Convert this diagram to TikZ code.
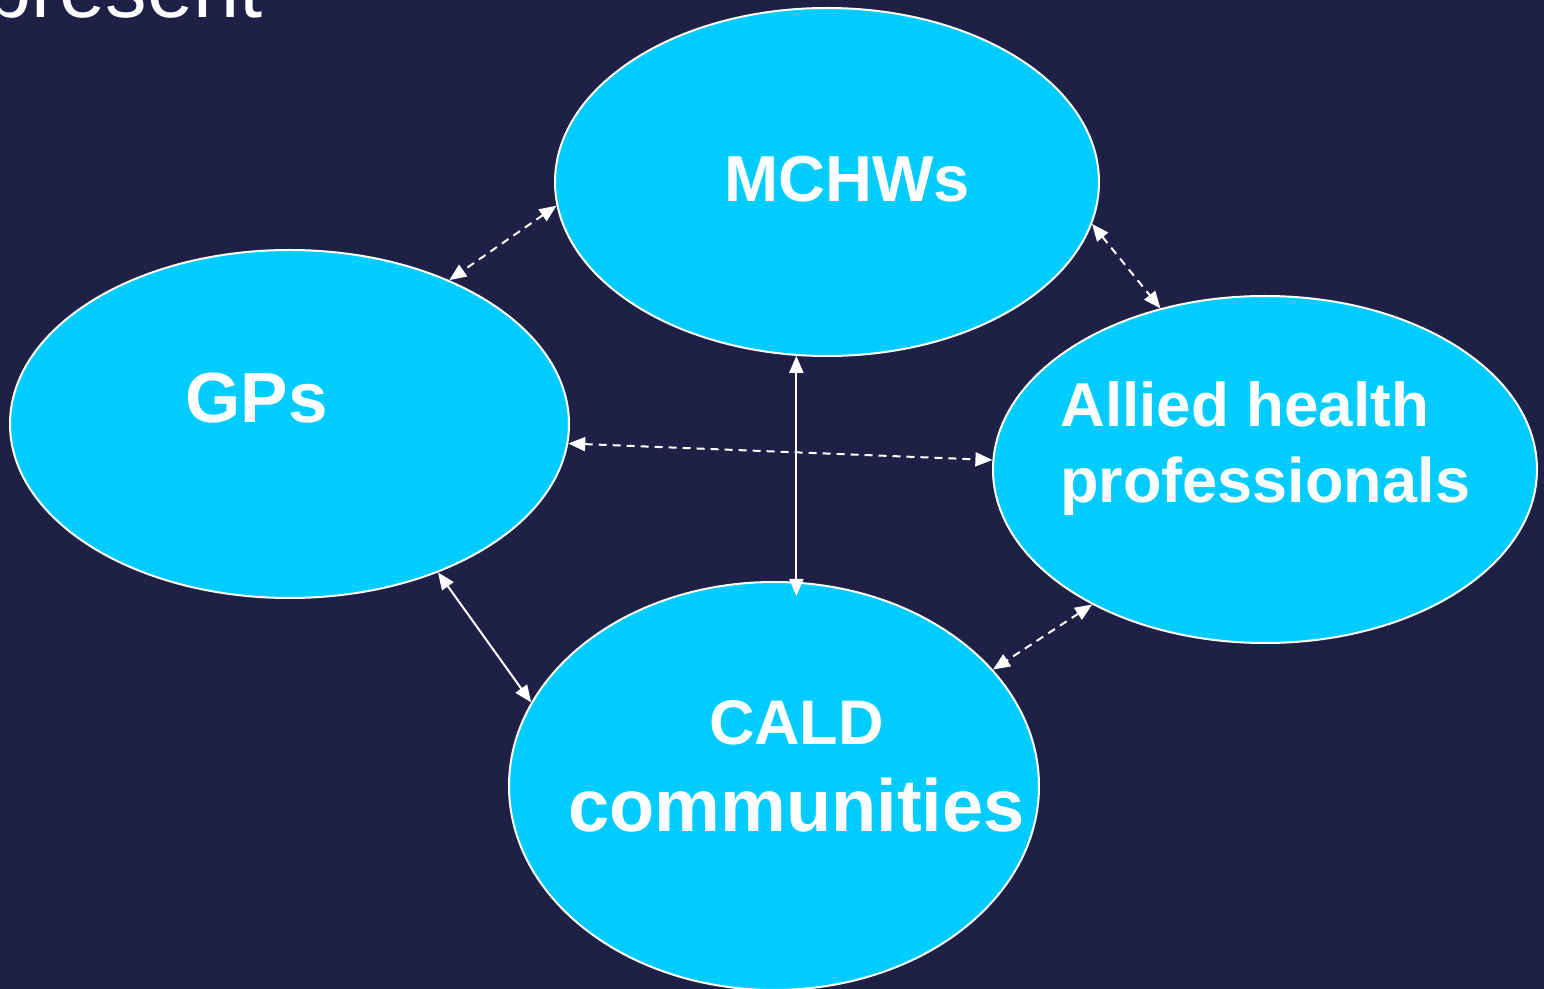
\documentclass[tikz,border=0pt]{standalone}
\usepackage{fontspec}
\setmainfont{Liberation Sans}
\usetikzlibrary{arrows.meta,shapes.geometric}
\definecolor{bgnavy}{HTML}{1F2046}
\definecolor{ovalcyan}{HTML}{00CCFF}
\tikzset{
  oval/.style={ellipse,draw=white,line width=1pt,fill=ovalcyan,inner sep=0pt},
  lbl/.style={text=white,font=\bfseries,inner sep=0pt,anchor=base},
  link/.style={white,line width=1pt,{Triangle[length=8.5pt,width=7pt]}-{Triangle[length=8.5pt,width=7pt]}},
  dlink/.style={link,dash pattern=on 4pt off 3pt}
}
\begin{document}
\begin{tikzpicture}[x=0.5pt,y=-0.5pt]
\fill[bgnavy] (0,0) rectangle (1544,989);
\useasboundingbox (0,0) rectangle (1544,989);
\begin{scope}
\clip (0,0) rectangle (1544,989);
\node[text=white,inner sep=0pt,anchor=base east,font=\fontsize{41.5}{48}\selectfont] (title) at (263,18) {present};
\node[oval,minimum width=272pt,minimum height=174pt] (mch) at (827,182) {};
\node[oval,minimum width=279.5pt,minimum height=174pt] (gp) at (289.5,424) {};
\node[oval,minimum width=272pt,minimum height=173.5pt] (ah) at (1265,469.5) {};
\node[oval,minimum width=265pt,minimum height=204pt] (cald) at (774,786) {};
\end{scope}
\node[lbl,font=\fontsize{32.5}{38}\selectfont\bfseries] (tm) at (847,202) {MCHWs};
\node[lbl,font=\fontsize{35.5}{42}\selectfont\bfseries] (tg) at (256.5,423) {GPs};
\node[lbl,anchor=base west,font=\fontsize{31}{38}\selectfont\bfseries] (ta1) at (1060,427) {Allied health};
\node[lbl,anchor=base west,font=\fontsize{31.5}{38}\selectfont\bfseries] (ta2) at (1060,503) {professionals};
\node[lbl,font=\fontsize{31.5}{38}\selectfont\bfseries] (tc1) at (796.5,745) {CALD};
\node[lbl,font=\fontsize{37}{44}\selectfont\bfseries] (tc2) at (796.5,832) {communities};
% connectors
\draw[dlink] (mch.185) -- (gp.42);
\draw[dlink] (mch.-9) -- (ah.123);
\draw[dlink] (gp.-4.7) -- (ah.178.6);
\draw[link,shorten >=-7.5pt] (mch.260) -- (mch.260 |- cald.north);
\draw[link] (gp.-45) -- (cald.161);
\draw[dlink] (ah.218) -- (cald.28);
\end{tikzpicture}
\end{document}
